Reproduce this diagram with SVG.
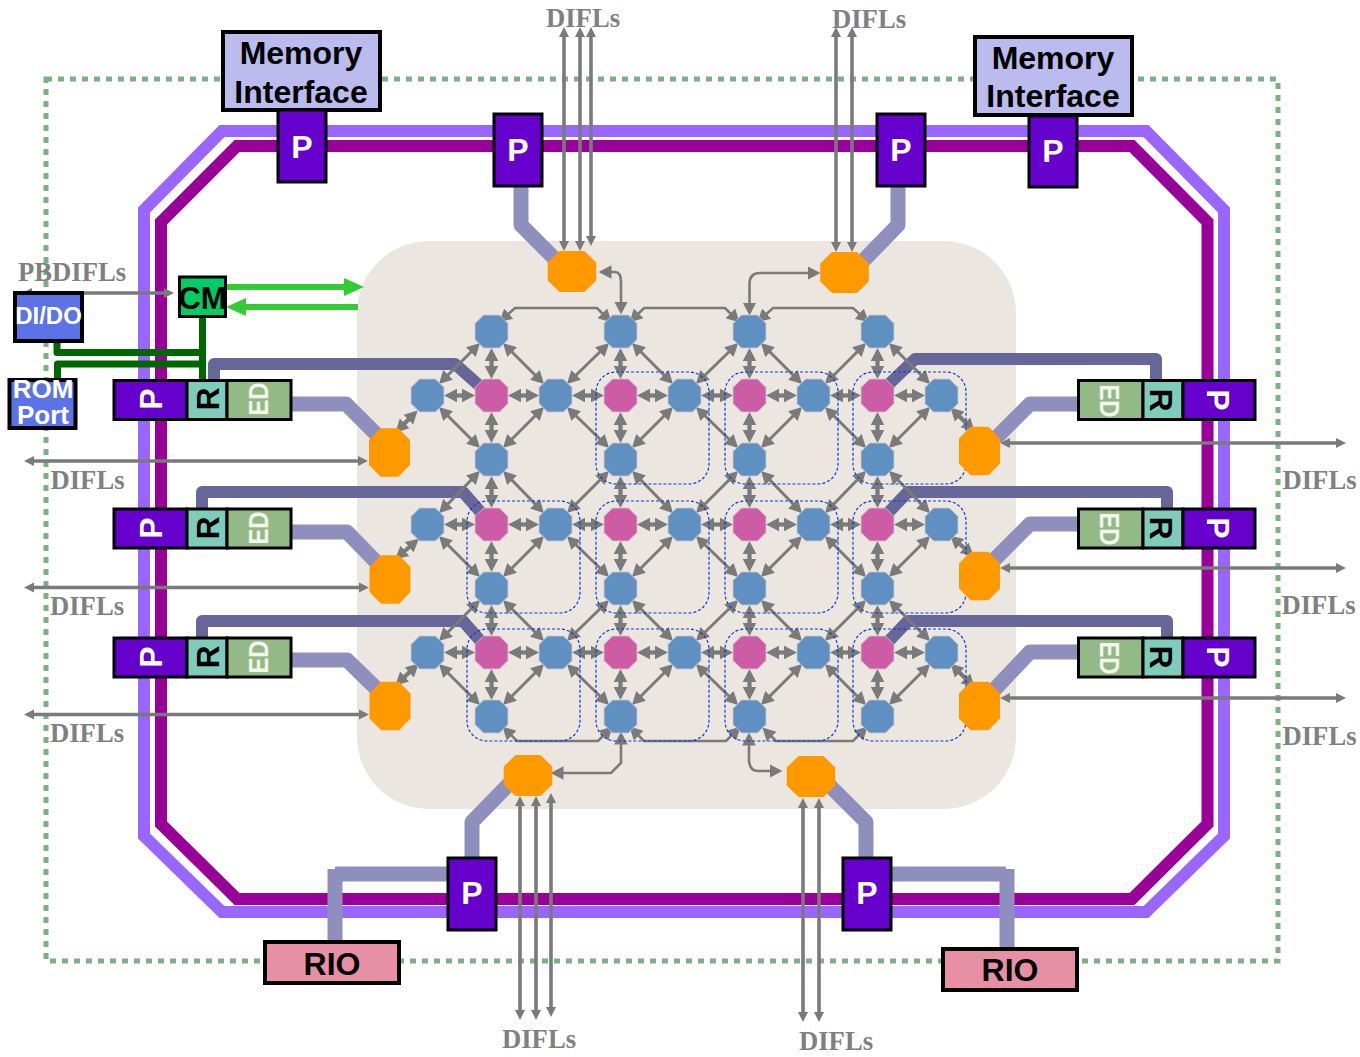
<svg xmlns="http://www.w3.org/2000/svg" width="1360" height="1057" viewBox="0 0 1360 1057">
<style>
text{font-family:"Liberation Sans",Arial,sans-serif;font-weight:bold}
.l{font-family:"Liberation Serif","Times New Roman",serif;font-size:26.67px;fill:#808080}
.t{font-size:32px;text-anchor:middle;fill:#000}
.w{fill:#fff}
.box{stroke:#000;stroke-width:4}
.thin{stroke:#000;stroke-width:3}
.pb{fill:#6600cc}.rb{fill:#7fccbb}.eb{fill:#93ba86}
.ed{font-size:28px;fill:#f2f6ec;text-anchor:middle}
.b{fill:#6090c2}.m{fill:#cc5ca6}.o{fill:#ff9900}
.f{fill:none;stroke-linejoin:round}
.lt{stroke:#8f8fbd;stroke-width:15}
.dk{stroke:#666699;stroke-width:12}
.gn{stroke:#006600;stroke-width:7}
.arr line{fill:none;stroke:#7a7a7a;stroke-width:3.6;marker-start:url(#h);marker-end:url(#h)}
.arr path{fill:none;stroke:#7a7a7a;stroke-width:2.6;marker-start:url(#k);marker-end:url(#k)}
.arr .lat line{stroke-width:3;marker-start:url(#k);marker-end:url(#k)}
.arr .lat .s,.arr .s{stroke-width:4.2;marker-start:url(#k);marker-end:url(#k)}
.z rect{fill:none;stroke:#0a3cd2;stroke-width:1.2;stroke-dasharray:3 2}
</style>
<defs>
<marker id="h" markerUnits="userSpaceOnUse" markerWidth="14" markerHeight="14" viewBox="0 -7 14 14" refX="4" refY="0" orient="auto-start-reverse"><path d="M0,-5L10,0L0,5z" fill="#7a7a7a"/></marker>
<marker id="k" markerUnits="userSpaceOnUse" markerWidth="16" markerHeight="16" viewBox="0 -8 16 16" refX="6.500" refY="0" orient="auto-start-reverse"><path d="M0,-6.800L13,0L0,6.800z" fill="#7a7a7a"/></marker>
<marker id="g" markerUnits="userSpaceOnUse" markerWidth="22" markerHeight="20" viewBox="0 -10 22 20" refX="2" refY="0" orient="auto"><path d="M0,-9L20,0L0,9z" fill="#33cc33"/></marker>
<polygon id="oc" points="-8,-16.5 8,-16.5 16.5,-8 16.5,8 8,16.5 -8,16.5 -16.5,8 -16.5,-8" stroke="#d0ccc8" stroke-width=".8"/>
<polygon id="oh" points="-12.5,-20.5 12.5,-20.5 24.3,-9 24.3,9 12.5,20.5 -12.5,20.5 -24.3,9 -24.3,-9"/>
<polygon id="ov" points="-9,-24.3 9,-24.3 20.5,-12.5 20.5,12.5 9,24.3 -9,24.3 -20.5,12.5 -20.5,-12.5"/>
</defs>
<rect width="1360" height="1057" fill="#fff"/>
<rect id="boundary" x="46" y="79" width="1232" height="882" fill="none" stroke="#7fb07f" stroke-width="5" stroke-dasharray="6 6"/>
<g id="rings" fill="none">
<path d="M222,131H1146L1224,210V836L1146,912H222L144,836V210Z" stroke="#9966ff" stroke-width="12"/>
<path d="M237,146H1132L1207.500,222V824L1132,899H237L161,824V222Z" stroke="#990099" stroke-width="12"/>
</g>
<rect id="fabric" x="357" y="241" width="659" height="568" rx="72" fill="#ece6e0"/>
<g id="links">
<g class="f lt">
<path d="M521,186V225L556,260"/><path d="M898,186V225L862,262"/>
<path d="M511,782L472,822V857"/><path d="M828,784L866,822V857"/>
<path d="M447,874H335"/><path d="M335,869V941"/><path d="M892,874H1006"/><path d="M1007,869V949"/>
<path d="M291,404H346L384,442"/><path d="M291,532H347L382,568"/><path d="M291,660H347L384,696"/>
<path d="M1078,404H1030L996,438"/><path d="M1078,524H1030L992,562"/><path d="M1078,652H1030L994,690"/>
</g>
<g class="f dk">
<path d="M214,380V364H455L482,388"/><path d="M202,508V492H463L484,516"/><path d="M202,637V621H463L484,645"/>
<path d="M1156,380V359H915L885,388"/><path d="M1167,508V492H908L885,516"/><path d="M1167,637V621H908L885,645"/>
</g>
<g class="f gn">
<path d="M202.500,317V380"/><path d="M57,342V352.500H202"/><path d="M57.500,378V364H202"/>
</g>
<g fill="none" stroke="#33cc33" stroke-width="6">
<path d="M226,287H346" marker-end="url(#g)"/>
<path d="M358,307H244" marker-end="url(#g)"/>
</g>
</g>
<g id="connectors" class="arr">
<line x1="28" y1="293" x2="168" y2="293"/>
<line x1="30" y1="461" x2="362" y2="461"/><line x1="30" y1="587.500" x2="363" y2="587.500"/><line x1="30" y1="714.500" x2="363" y2="714.500"/>
<line x1="1006" y1="443" x2="1340" y2="443"/><line x1="1006" y1="568" x2="1340" y2="568"/><line x1="1006" y1="698" x2="1340" y2="698"/>
<line x1="564" y1="33" x2="564" y2="245"/><line x1="580" y1="33" x2="580" y2="245"/><line x1="591" y1="33" x2="591" y2="240"/>
<line x1="836" y1="33" x2="836" y2="246"/><line x1="852" y1="33" x2="852" y2="246"/>
<line x1="520" y1="802" x2="520" y2="1014"/><line x1="536" y1="802" x2="536" y2="1014"/><line x1="551" y1="799" x2="551" y2="1011"/>
<line x1="803" y1="804" x2="803" y2="1016"/><line x1="819" y1="804" x2="819" y2="1016"/>
<path d="M504,318L515,308H597L607,318"/><path d="M634,318L644,308H725L735,318"/><path d="M762,318L773,308H853L864,318"/>
<path d="M507,731L517,741H598L608,731"/><path d="M634,731L644,741H726L736,731"/><path d="M767,732L776,741H853L863,731"/>
<path d="M605,272H615Q621,272 621,282V308"/><path d="M749.500,309V284Q749.500,273 760,273H814"/>
<path d="M621,738V763L611,773H557"/><path d="M749,739V761Q750,771 758,771H776"/>
<line class="s" x1="400" y1="428" x2="413" y2="415"/><line class="s" x1="400" y1="555" x2="414" y2="543"/><line class="s" x1="400" y1="681" x2="414" y2="668"/>
<line class="s" x1="955" y1="412" x2="970" y2="427"/><line class="s" x1="955" y1="540" x2="969" y2="552"/><line class="s" x1="955" y1="668" x2="970" y2="683"/>
<g class="lat" transform="translate(.5,.5)">
<line x1="475" y1="347" x2="443" y2="379"/><line x1="507" y1="347" x2="539" y2="379"/><line x1="604" y1="347" x2="571" y2="379"/><line x1="636" y1="347" x2="668" y2="379"/><line x1="733" y1="347" x2="700" y2="379"/><line x1="765" y1="347" x2="797" y2="379"/><line x1="861" y1="347" x2="829" y2="379"/><line x1="893" y1="347" x2="925" y2="379"/>
<line x1="475" y1="443" x2="443" y2="411"/><line x1="507" y1="443" x2="539" y2="411"/><line x1="604" y1="443" x2="571" y2="411"/><line x1="636" y1="443" x2="668" y2="411"/><line x1="733" y1="443" x2="700" y2="411"/><line x1="765" y1="443" x2="797" y2="411"/><line x1="861" y1="443" x2="829" y2="411"/><line x1="893" y1="443" x2="925" y2="411"/>
<line x1="475" y1="475" x2="443" y2="508"/><line x1="507" y1="475" x2="539" y2="508"/><line x1="604" y1="475" x2="571" y2="508"/><line x1="636" y1="475" x2="668" y2="508"/><line x1="733" y1="475" x2="700" y2="508"/><line x1="765" y1="475" x2="797" y2="508"/><line x1="861" y1="475" x2="829" y2="508"/><line x1="893" y1="475" x2="925" y2="508"/>
<line x1="475" y1="572" x2="443" y2="540"/><line x1="507" y1="572" x2="539" y2="540"/><line x1="604" y1="572" x2="571" y2="540"/><line x1="636" y1="572" x2="668" y2="540"/><line x1="733" y1="572" x2="700" y2="540"/><line x1="765" y1="572" x2="797" y2="540"/><line x1="861" y1="572" x2="829" y2="540"/><line x1="893" y1="572" x2="925" y2="540"/>
<line x1="475" y1="604" x2="443" y2="636"/><line x1="507" y1="604" x2="539" y2="636"/><line x1="604" y1="604" x2="571" y2="636"/><line x1="636" y1="604" x2="668" y2="636"/><line x1="733" y1="604" x2="700" y2="636"/><line x1="765" y1="604" x2="797" y2="636"/><line x1="861" y1="604" x2="829" y2="636"/><line x1="893" y1="604" x2="925" y2="636"/>
<line x1="475" y1="700" x2="443" y2="668"/><line x1="507" y1="700" x2="539" y2="668"/><line x1="604" y1="700" x2="571" y2="668"/><line x1="636" y1="700" x2="668" y2="668"/><line x1="733" y1="700" x2="700" y2="668"/><line x1="765" y1="700" x2="797" y2="668"/><line x1="861" y1="700" x2="829" y2="668"/><line x1="893" y1="700" x2="925" y2="668"/>
<line class="s" x1="491" y1="354" x2="491" y2="372"/><line class="s" x1="491" y1="418" x2="491" y2="436"/><line class="s" x1="491" y1="482" x2="491" y2="501"/><line class="s" x1="491" y1="547" x2="491" y2="565"/><line class="s" x1="491" y1="611" x2="491" y2="629"/><line class="s" x1="491" y1="675" x2="491" y2="693"/>
<line class="s" x1="620" y1="354" x2="620" y2="372"/><line class="s" x1="620" y1="418" x2="620" y2="436"/><line class="s" x1="620" y1="482" x2="620" y2="501"/><line class="s" x1="620" y1="547" x2="620" y2="565"/><line class="s" x1="620" y1="611" x2="620" y2="629"/><line class="s" x1="620" y1="675" x2="620" y2="693"/>
<line class="s" x1="749" y1="354" x2="749" y2="372"/><line class="s" x1="749" y1="418" x2="749" y2="436"/><line class="s" x1="749" y1="482" x2="749" y2="501"/><line class="s" x1="749" y1="547" x2="749" y2="565"/><line class="s" x1="749" y1="611" x2="749" y2="629"/><line class="s" x1="749" y1="675" x2="749" y2="693"/>
<line class="s" x1="877" y1="354" x2="877" y2="372"/><line class="s" x1="877" y1="418" x2="877" y2="436"/><line class="s" x1="877" y1="482" x2="877" y2="501"/><line class="s" x1="877" y1="547" x2="877" y2="565"/><line class="s" x1="877" y1="611" x2="877" y2="629"/><line class="s" x1="877" y1="675" x2="877" y2="693"/>
<line class="s" x1="450" y1="395" x2="468" y2="395"/><line class="s" x1="514" y1="395" x2="532" y2="395"/><line class="s" x1="578" y1="395" x2="597" y2="395"/><line class="s" x1="643" y1="395" x2="661" y2="395"/><line class="s" x1="707" y1="395" x2="726" y2="395"/><line class="s" x1="772" y1="395" x2="790" y2="395"/><line class="s" x1="836" y1="395" x2="854" y2="395"/><line class="s" x1="900" y1="395" x2="918" y2="395"/>
<line class="s" x1="450" y1="524" x2="468" y2="524"/><line class="s" x1="514" y1="524" x2="532" y2="524"/><line class="s" x1="578" y1="524" x2="597" y2="524"/><line class="s" x1="643" y1="524" x2="661" y2="524"/><line class="s" x1="707" y1="524" x2="726" y2="524"/><line class="s" x1="772" y1="524" x2="790" y2="524"/><line class="s" x1="836" y1="524" x2="854" y2="524"/><line class="s" x1="900" y1="524" x2="918" y2="524"/>
<line class="s" x1="450" y1="652" x2="468" y2="652"/><line class="s" x1="514" y1="652" x2="532" y2="652"/><line class="s" x1="578" y1="652" x2="597" y2="652"/><line class="s" x1="643" y1="652" x2="661" y2="652"/><line class="s" x1="707" y1="652" x2="726" y2="652"/><line class="s" x1="772" y1="652" x2="790" y2="652"/><line class="s" x1="836" y1="652" x2="854" y2="652"/><line class="s" x1="900" y1="652" x2="918" y2="652"/>
</g>
</g>
<g id="zones" class="z">
<rect x="596" y="372" width="113" height="112" rx="20"/><rect x="725" y="372" width="113" height="112" rx="20"/><rect x="853" y="372" width="113" height="112" rx="20"/>
<rect x="467" y="501" width="113" height="112" rx="20"/><rect x="596" y="501" width="113" height="112" rx="20"/><rect x="725" y="501" width="113" height="112" rx="20"/><rect x="853" y="501" width="113" height="112" rx="20"/>
<rect x="467" y="629" width="113" height="112" rx="20"/><rect x="596" y="629" width="113" height="112" rx="20"/><rect x="725" y="629" width="113" height="112" rx="20"/><rect x="853" y="629" width="113" height="112" rx="20"/>
</g>
<g id="mesh-nodes" transform="translate(.5,.5)">
<g id="n1"><use href="#oc" class="b" x="491" y="331"/></g><g id="n2"><use href="#oc" class="b" x="620" y="331"/></g><g id="n3"><use href="#oc" class="b" x="749" y="331"/></g><g id="n4"><use href="#oc" class="b" x="877" y="331"/></g>
<g id="n5"><use href="#oc" class="b" x="427" y="395"/></g><g id="n6"><use href="#oc" class="m" x="491" y="395"/></g><g id="n7"><use href="#oc" class="b" x="555" y="395"/></g><g id="n8"><use href="#oc" class="m" x="620" y="395"/></g><g id="n9"><use href="#oc" class="b" x="684" y="395"/></g><g id="n10"><use href="#oc" class="m" x="749" y="395"/></g><g id="n11"><use href="#oc" class="b" x="813" y="395"/></g><g id="n12"><use href="#oc" class="m" x="877" y="395"/></g><g id="n13"><use href="#oc" class="b" x="941" y="395"/></g>
<g id="n14"><use href="#oc" class="b" x="491" y="459"/></g><g id="n15"><use href="#oc" class="b" x="620" y="459"/></g><g id="n16"><use href="#oc" class="b" x="749" y="459"/></g><g id="n17"><use href="#oc" class="b" x="877" y="459"/></g>
<g id="n18"><use href="#oc" class="b" x="427" y="524"/></g><g id="n19"><use href="#oc" class="m" x="491" y="524"/></g><g id="n20"><use href="#oc" class="b" x="555" y="524"/></g><g id="n21"><use href="#oc" class="m" x="620" y="524"/></g><g id="n22"><use href="#oc" class="b" x="684" y="524"/></g><g id="n23"><use href="#oc" class="m" x="749" y="524"/></g><g id="n24"><use href="#oc" class="b" x="813" y="524"/></g><g id="n25"><use href="#oc" class="m" x="877" y="524"/></g><g id="n26"><use href="#oc" class="b" x="941" y="524"/></g>
<g id="n27"><use href="#oc" class="b" x="491" y="588"/></g><g id="n28"><use href="#oc" class="b" x="620" y="588"/></g><g id="n29"><use href="#oc" class="b" x="749" y="588"/></g><g id="n30"><use href="#oc" class="b" x="877" y="588"/></g>
<g id="n31"><use href="#oc" class="b" x="427" y="652"/></g><g id="n32"><use href="#oc" class="m" x="491" y="652"/></g><g id="n33"><use href="#oc" class="b" x="555" y="652"/></g><g id="n34"><use href="#oc" class="m" x="620" y="652"/></g><g id="n35"><use href="#oc" class="b" x="684" y="652"/></g><g id="n36"><use href="#oc" class="m" x="749" y="652"/></g><g id="n37"><use href="#oc" class="b" x="813" y="652"/></g><g id="n38"><use href="#oc" class="m" x="877" y="652"/></g><g id="n39"><use href="#oc" class="b" x="941" y="652"/></g>
<g id="n40"><use href="#oc" class="b" x="491" y="716"/></g><g id="n41"><use href="#oc" class="b" x="620" y="716"/></g><g id="n42"><use href="#oc" class="b" x="749" y="716"/></g><g id="n43"><use href="#oc" class="b" x="877" y="716"/></g>
</g>
<g id="io-nodes">
<g id="io1"><use href="#oh" class="o" x="572" y="271.500"/></g><g id="io2"><use href="#oh" class="o" x="844.500" y="272.500"/></g>
<g id="io3"><use href="#ov" class="o" x="389.500" y="452.500"/></g><g id="io4"><use href="#ov" class="o" x="390" y="579.500"/></g><g id="io5"><use href="#ov" class="o" x="390" y="706"/></g>
<g id="io6"><use href="#ov" class="o" x="979.500" y="451"/></g><g id="io7"><use href="#ov" class="o" x="979.500" y="576"/></g><g id="io8"><use href="#ov" class="o" x="979.500" y="706"/></g>
<g id="io9"><use href="#oh" class="o" x="528" y="775.500"/></g><g id="io10"><use href="#oh" class="o" x="811" y="776.500"/></g>
</g>
<g id="labels">
<text class="l" x="546" y="27">DIFLs</text><text class="l" x="832" y="28">DIFLs</text>
<text class="l" x="18" y="281">PBDIFLs</text>
<text class="l" x="50.500" y="489">DIFLs</text><text class="l" x="50" y="615">DIFLs</text><text class="l" x="50" y="742">DIFLs</text>
<text class="l" x="1282.500" y="489">DIFLs</text><text class="l" x="1281.500" y="614">DIFLs</text><text class="l" x="1282.500" y="745">DIFLs</text>
<text class="l" x="502" y="1048">DIFLs</text><text class="l" x="799" y="1050">DIFLs</text>
</g>
<g id="memory-left"><rect class="box" x="223" y="32" width="157" height="78" fill="#bbbbee"/><text class="t" x="301" y="64">Memory</text><text class="t" x="301" y="103">Interface</text></g>
<g id="memory-right"><rect class="box" x="975" y="37" width="157" height="78" fill="#bbbbee"/><text class="t" x="1053" y="69">Memory</text><text class="t" x="1053" y="107">Interface</text></g>
<g id="p-top1"><rect class="thin pb" x="278" y="110" width="48" height="72"/><text class="t w" x="302" y="158">P</text></g>
<g id="p-top2"><rect class="thin pb" x="494" y="114" width="48" height="72"/><text class="t w" x="518" y="161">P</text></g>
<g id="p-top3"><rect class="thin pb" x="877" y="114" width="48" height="72"/><text class="t w" x="901" y="161">P</text></g>
<g id="p-top4"><rect class="thin pb" x="1029" y="116" width="48" height="71"/><text class="t w" x="1053" y="162">P</text></g>
<g id="p-bot1"><rect class="thin pb" x="448" y="858" width="48" height="72"/><text class="t w" x="472" y="904">P</text></g>
<g id="p-bot2"><rect class="thin pb" x="843" y="858" width="48" height="72"/><text class="t w" x="867" y="904">P</text></g>
<g id="rio-left"><rect class="box" x="265" y="942" width="134" height="41" fill="#e68fa5"/><text class="t" x="332" y="975">RIO</text></g>
<g id="rio-right"><rect class="box" x="943" y="949" width="134" height="41" fill="#e68fa5"/><text class="t" x="1010" y="981">RIO</text></g>
<g id="cm"><rect class="thin" x="179.500" y="277" width="46" height="39.500" fill="#00cc66"/><text x="202.500" y="309" font-size="31" text-anchor="middle" fill="#000">CM</text></g>
<g id="dido"><rect class="box" x="15" y="293" width="67" height="48" fill="#5b73e6"/><text x="48.500" y="324" font-size="24" text-anchor="middle" fill="#fff">DI/DO</text></g>
<g id="rom"><rect class="box" x="9.500" y="380" width="66" height="48" fill="#5b73e6"/><text font-size="26" text-anchor="middle" fill="#fff"><tspan x="43" y="398">ROM</tspan><tspan x="43" y="424">Port</tspan></text></g>
<g id="left1">
<rect class="thin pb" x="114" y="380.500" width="73" height="39"/><rect class="thin rb" x="187" y="380.500" width="40" height="39"/><rect class="thin eb" x="227" y="380.500" width="64" height="39"/>
<text class="t w" transform="translate(162,399) rotate(-90)">P</text><text class="t" transform="translate(219,399) rotate(-90)">R</text><text class="ed" textLength="33" lengthAdjust="spacingAndGlyphs" transform="translate(268,399) rotate(-90)">ED</text></g>
<g id="left2">
<rect class="thin pb" x="114" y="509" width="73" height="39"/><rect class="thin rb" x="187" y="509" width="40" height="39"/><rect class="thin eb" x="227" y="509" width="64" height="39"/>
<text class="t w" transform="translate(162,528) rotate(-90)">P</text><text class="t" transform="translate(219,528) rotate(-90)">R</text><text class="ed" textLength="33" lengthAdjust="spacingAndGlyphs" transform="translate(268,528) rotate(-90)">ED</text></g>
<g id="left3">
<rect class="thin pb" x="114" y="638" width="73" height="39"/><rect class="thin rb" x="187" y="638" width="40" height="39"/><rect class="thin eb" x="227" y="638" width="64" height="39"/>
<text class="t w" transform="translate(162,657) rotate(-90)">P</text><text class="t" transform="translate(219,657) rotate(-90)">R</text><text class="ed" textLength="33" lengthAdjust="spacingAndGlyphs" transform="translate(268,657) rotate(-90)">ED</text></g>
<g id="right1">
<rect class="thin eb" x="1078.500" y="380.500" width="64.500" height="39"/><rect class="thin rb" x="1143" y="380.500" width="40" height="39"/><rect class="thin pb" x="1183" y="380.500" width="72" height="39"/>
<text class="ed" textLength="33" lengthAdjust="spacingAndGlyphs" transform="translate(1100,401) rotate(90)">ED</text><text class="t" transform="translate(1150,400) rotate(90)">R</text><text class="t w" transform="translate(1207,400) rotate(90)">P</text></g>
<g id="right2">
<rect class="thin eb" x="1078.500" y="509" width="64.500" height="39"/><rect class="thin rb" x="1143" y="509" width="40" height="39"/><rect class="thin pb" x="1183" y="509" width="72" height="39"/>
<text class="ed" textLength="33" lengthAdjust="spacingAndGlyphs" transform="translate(1100,529) rotate(90)">ED</text><text class="t" transform="translate(1150,528) rotate(90)">R</text><text class="t w" transform="translate(1207,528) rotate(90)">P</text></g>
<g id="right3">
<rect class="thin eb" x="1078.500" y="638" width="64.500" height="39"/><rect class="thin rb" x="1143" y="638" width="40" height="39"/><rect class="thin pb" x="1183" y="638" width="72" height="39"/>
<text class="ed" textLength="33" lengthAdjust="spacingAndGlyphs" transform="translate(1100,658) rotate(90)">ED</text><text class="t" transform="translate(1150,657) rotate(90)">R</text><text class="t w" transform="translate(1207,657) rotate(90)">P</text></g>
</svg>
